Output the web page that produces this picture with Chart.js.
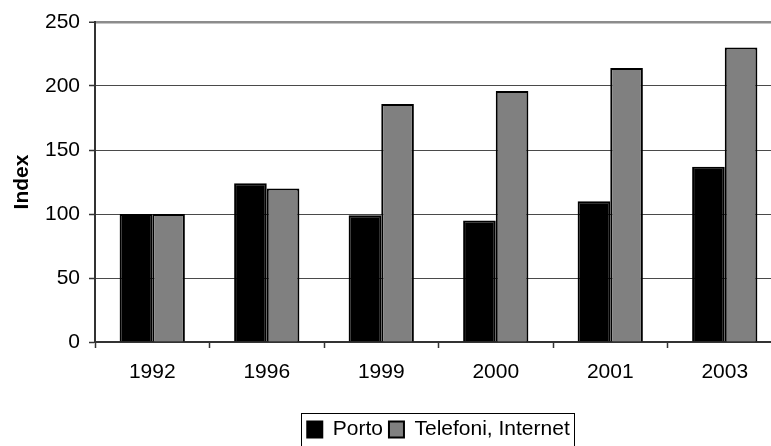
<!DOCTYPE html>
<html>
<head>
<meta charset="utf-8">
<script src="https://cdn.jsdelivr.net/npm/chart.js@4/dist/chart.umd.min.js"></script>
<style>
  html, body { margin: 0; padding: 0; background: #fff; overflow: hidden; }
  #wrap { width: 771px; height: 446px; overflow: hidden; position: relative; }
  canvas { display: block; }
</style>
</head>
<body>
<div id="wrap"><canvas id="c" width="782" height="470"></canvas></div>
<script>
// Index values (1992 = 100)
const years = ['1992', '1996', '1999', '2000', '2001', '2003'];
const porto = [100, 124, 99, 95, 110, 137];
const telefoni = [100, 120, 186, 196, 214, 230];
const yTicks = [0, 50, 100, 150, 200, 250];

const FONT = '"Liberation Sans", Arial, Helvetica, sans-serif';
Chart.defaults.font.family = FONT;
Chart.defaults.color = '#000';

// Thin frame around the legend row
const legendFrame = {
  id: 'legendFrame',
  afterDraw(chart) {
    const lg = chart.legend;
    if (!lg || !lg.legendHitBoxes || !lg.legendHitBoxes.length) return;
    const boxes = lg.legendHitBoxes;
    const last = boxes[boxes.length - 1];
    const l = Math.round(boxes[0].left - 6);
    const r = Math.round(last.left + last.width + 4);
    const ctx = chart.ctx;
    ctx.save();
    ctx.strokeStyle = '#000';
    ctx.lineWidth = 1;
    ctx.strokeRect(l + 0.5, Math.round(lg.top) + 0.5, r - l, 80);
    ctx.restore();
  }
};

new Chart(document.getElementById('c'), {
  type: 'bar',
  data: {
    labels: years,
    datasets: [
      {
        label: 'Porto',
        data: porto,
        backgroundColor: '#000000',
        borderColor: '#000000',
        borderWidth: 2,
        categoryPercentage: 0.57,
        barPercentage: 1.0
      },
      {
        label: 'Telefoni, Internet',
        data: telefoni,
        backgroundColor: '#808080',
        borderColor: '#000000',
        borderWidth: 2,
        categoryPercentage: 0.57,
        barPercentage: 1.0
      }
    ]
  },
  options: {
    responsive: false,
    animation: false,
    devicePixelRatio: 1,
    layout: { padding: { top: 22, left: 0, right: 0, bottom: 20 } },
    plugins: {
      tooltip: { enabled: false },
      legend: {
        display: true,
        position: 'bottom',
        fullSize: false,
        labels: {
          boxWidth: 15,
          boxHeight: 16,
          padding: 6,
          color: '#000',
          font: { size: 21 }
        }
      }
    },
    scales: {
      x: {
        grid: {
          offset: true,
          drawOnChartArea: false,
          drawTicks: true,
          tickLength: 6,
          tickColor: '#333',
          tickWidth: 1.5
        },
        border: { display: true, color: '#333', width: 2 },
        ticks: { color: '#000', font: { size: 21 }, padding: 12, maxRotation: 0 },
        afterFit(scale) { scale.height = 71; }
      },
      y: {
        min: 0,
        max: 250,
        afterBuildTicks(scale) { scale.ticks = yTicks.map(v => ({ value: v })); },
        grid: {
          color: c => (c.tick && c.tick.value === 250 ? '#8c8c8c' : '#4a4a4a'),
          lineWidth: c => (c.tick && c.tick.value === 250 ? 2.5 : 1),
          tickLength: 6,
          tickColor: '#333',
          tickWidth: 1.5
        },
        border: { display: true, color: '#333', width: 2 },
        ticks: { color: '#000', font: { size: 21 }, padding: 9 },
        title: {
          display: true,
          text: 'Index',
          color: '#000',
          font: { size: 21, weight: 'bold' },
          padding: { top: 10, bottom: 0 }
        },
        afterFit(scale) { scale.width = 95; }
      }
    }
  },
  plugins: [legendFrame]
});
</script>
</body>
</html>
